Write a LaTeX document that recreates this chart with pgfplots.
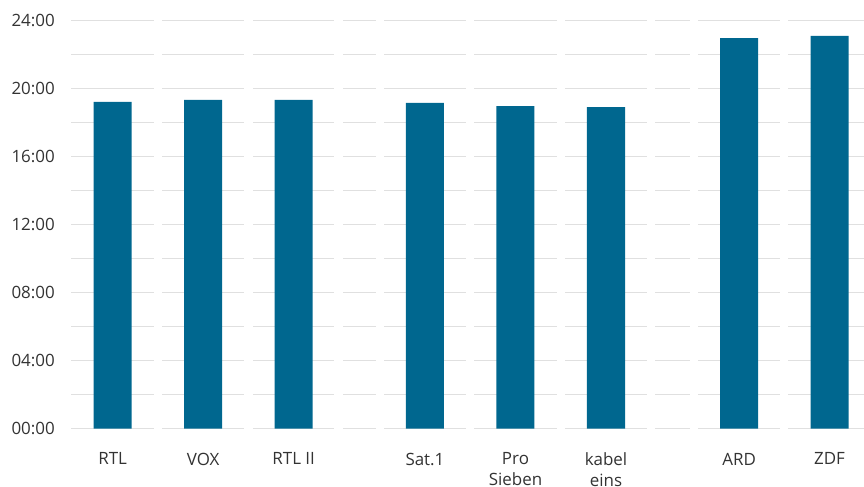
\documentclass[border=0pt]{standalone}
\usepackage{pgfplots}
\pgfplotsset{compat=1.18}
\usepackage{fontspec}
\setmainfont{Open Sans}
\definecolor{barblue}{RGB}{0,103,143}
\definecolor{gridgray}{RGB}{224,224,224}
\definecolor{txt}{RGB}{51,51,51}
\begin{document}
\begin{tikzpicture}
\begin{axis}[
  at={(71bp,58.3bp)}, anchor=south west,
  scale only axis, width=793bp, height=408bp,
  xmin=-0.46, xmax=8.3, ymin=0, ymax=24,
  clip=false,
  axis line style={draw=none},
  major tick length=0pt,
  xtick={0,1,2,3.45,4.45,5.45,6.92,7.92},
  xticklabels={RTL,VOX,RTL II,Sat.1,{Pro\\Sieben},{kabel\\eins},ARD,ZDF},
  ytick={0,2,4,6,8,10,12,14,16,18,20,22,24},
  yticklabels={00:00,,04:00,,08:00,,12:00,,16:00,,20:00,,24:00},
  ymajorgrids,
  grid style={gridgray, line width=1.5bp},
  xticklabel style={anchor=north, inner sep=0pt, yshift=-24bp, align=center, font=\fontsize{17}{21}\selectfont, text=txt},
  yticklabel style={anchor=east, inner sep=0pt, xshift=-16bp, font=\fontsize{17}{21}\selectfont, text=txt},
]
\fill[white] (axis cs:0.455,-0.3) rectangle (axis cs:0.545,24.3);
\fill[white] (axis cs:1.455,-0.3) rectangle (axis cs:1.545,24.3);
\fill[white] (axis cs:2.45,-0.3) rectangle (axis cs:2.54,24.3);
\fill[white] (axis cs:2.91,-0.3) rectangle (axis cs:3.0,24.3);
\fill[white] (axis cs:3.905,-0.3) rectangle (axis cs:3.995,24.3);
\fill[white] (axis cs:4.905,-0.3) rectangle (axis cs:4.995,24.3);
\fill[white] (axis cs:5.905,-0.3) rectangle (axis cs:5.995,24.3);
\fill[white] (axis cs:6.38,-0.3) rectangle (axis cs:6.47,24.3);
\fill[white] (axis cs:7.375,-0.3) rectangle (axis cs:7.465,24.3);
\addplot[ybar, bar width=0.42, fill=barblue, draw=none] coordinates {
  (0,19.22) (1,19.34) (2,19.34) (3.45,19.16) (4.45,18.98) (5.45,18.92) (6.92,22.98) (7.92,23.10)
};
\end{axis}
\pgfresetboundingbox
\useasboundingbox (0,0) rectangle (864bp,487bp);
\end{tikzpicture}
\end{document}
